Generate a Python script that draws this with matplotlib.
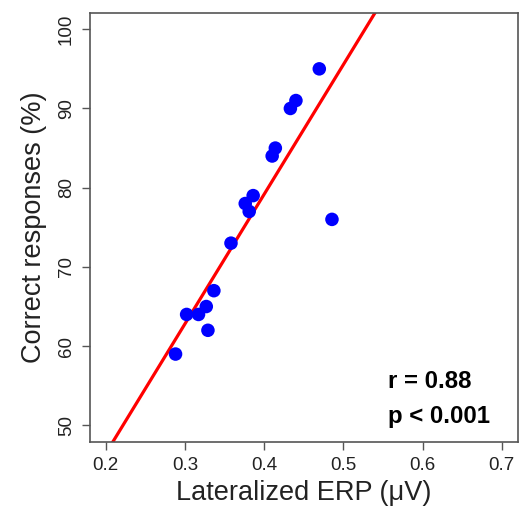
import matplotlib
matplotlib.use("Agg")
import matplotlib.pyplot as plt
import numpy as np

erp = [0.4695, 0.440, 0.433, 0.414, 0.410, 0.386, 0.376, 0.381, 0.4855,
       0.358, 0.3364, 0.3268, 0.302, 0.317, 0.3289, 0.288]
correct = [95, 91, 90, 85, 84, 79, 78, 77, 76, 73, 67, 65, 64, 64, 62, 59]

fit_intercept = 13.75
fit_slope = 163.6

x_ticks = [0.2, 0.3, 0.4, 0.5, 0.6, 0.7]
x_tick_labels = ["0.2", "0.3", "0.4", "0.5", "0.6", "0.7"]
y_ticks = [50, 60, 70, 80, 90, 100]
y_tick_labels = ["50", "60", "70", "80", "90", "100"]

stats_lines = ["r = 0.88", "p < 0.001"]

plt.rcParams['font.family'] = ['Liberation Sans', 'DejaVu Sans']

W, H = 519, 514
fig = plt.figure(figsize=(W / 100, H / 100), dpi=100)
ax = fig.add_axes([90 / W, 1 - 442 / H, (517.7 - 90) / W, (442 - 13) / H])

ax.set_xlim(0.18, 0.72)
ax.set_ylim(47.9, 102.05)

xs = np.array(ax.get_xlim())
ax.plot(xs, fit_intercept + fit_slope * xs, color='#ff0000', lw=2.3, zorder=2,
        solid_capstyle='butt')
ax.scatter(erp, correct, s=95, color='#0000ff', edgecolors='none', zorder=3)

ax.set_xticks(x_ticks)
ax.set_xticklabels(x_tick_labels)
ax.set_yticks(y_ticks)
ax.set_yticklabels(y_tick_labels, rotation=90, va='center')

axis_col = '#555555'
for sp in ax.spines.values():
    sp.set_color(axis_col)
    sp.set_linewidth(1.2)
ax.tick_params(axis='both', direction='out', length=6, width=1.0, color=axis_col,
               labelsize=13.5, labelcolor='#222222', pad=5)

ax.set_xlabel("Lateralized ERP (\u03bcV)", fontsize=19.5, color='#222222', labelpad=4)
ax.set_ylabel("Correct responses (%)", fontsize=19.5, color='#222222', labelpad=8)

ax.text(388 / W, 1 - 388 / H, stats_lines[0], transform=fig.transFigure,
        fontsize=17.3, fontweight='bold', ha='left', va='baseline', color='black')
ax.text(388 / W, 1 - 423 / H, stats_lines[1], transform=fig.transFigure,
        fontsize=17.3, fontweight='bold', ha='left', va='baseline', color='black')

fig.savefig("out.png", dpi=100, facecolor='white')
